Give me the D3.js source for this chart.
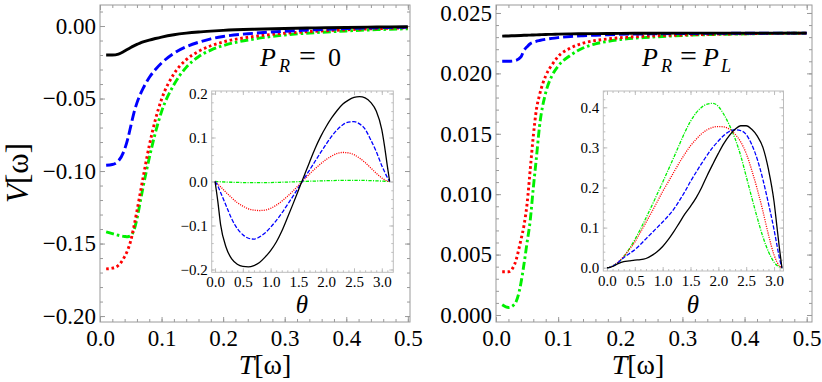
<!DOCTYPE html>
<html>
<head>
<meta charset="utf-8">
<script src="https://cdn.jsdelivr.net/npm/d3@7"></script>
<style>
  body { margin: 0; background: #fff; }
  text { font-family: "Liberation Serif", "Times New Roman", serif; }
</style>
</head>
<body>
<svg id="chart" width="822" height="382"></svg>
<script>
// temperature grid of the two main panels
const T = [0.01, 0.02, 0.03, 0.04, 0.045, 0.05, 0.055, 0.06, 0.065, 0.07, 0.08, 0.09, 0.10,
  0.12, 0.14, 0.16, 0.18, 0.20, 0.25, 0.30, 0.35, 0.40, 0.45, 0.50];

// left panel, P_R = 0
const leftBlack = [-0.0200, -0.0200, -0.0193, -0.0172, -0.0160, -0.0148, -0.0137, -0.0127, -0.0118, -0.0110, -0.0097, -0.0086, -0.0076,
  -0.0060, -0.0049, -0.0041, -0.0035, -0.0030, -0.0022, -0.0017, -0.0013, -0.0010, -0.0007, -0.0005];
const leftBlue = [-0.0960, -0.0955, -0.0930, -0.0850, -0.0780, -0.0690, -0.0600, -0.0530, -0.0475, -0.0430, -0.0355, -0.0300, -0.0255,
  -0.0188, -0.0143, -0.0112, -0.0088, -0.0072, -0.0050, -0.0036, -0.0026, -0.0018, -0.0012, -0.0008];
const leftRed = [-0.1675, -0.1670, -0.1650, -0.1590, -0.1545, -0.1480, -0.1385, -0.1275, -0.1160, -0.1045, -0.0825, -0.0645, -0.0505,
  -0.0330, -0.0232, -0.0175, -0.0136, -0.0110, -0.0072, -0.0050, -0.0036, -0.0026, -0.0018, -0.0012];
const leftGreen = [-0.1420, -0.1432, -0.1443, -0.1451, -0.1453, -0.1445, -0.1410, -0.1330, -0.1220, -0.1110, -0.0910, -0.0735, -0.0590,
  -0.0405, -0.0285, -0.0212, -0.0166, -0.0135, -0.0090, -0.0062, -0.0046, -0.0034, -0.0025, -0.0019];

// right panel, P_R = P_L
const rightBlack = [0.02308, 0.02310, 0.02312, 0.02314, 0.02315, 0.02316, 0.02317, 0.02318, 0.02319, 0.02320, 0.02322, 0.02323, 0.02325,
  0.02327, 0.02328, 0.02329, 0.02330, 0.02331, 0.02332, 0.02333, 0.02333, 0.02333, 0.02333, 0.02333];
const rightBlue = [0.02100, 0.02100, 0.02105, 0.02135, 0.02190, 0.02220, 0.02245, 0.02258, 0.02266, 0.02272, 0.02282, 0.02290, 0.02296,
  0.02305, 0.02311, 0.02316, 0.02320, 0.02323, 0.02327, 0.02330, 0.02331, 0.02332, 0.02333, 0.02333];
const rightRed = [0.00358, 0.00358, 0.00420, 0.00620, 0.00740, 0.00920, 0.01200, 0.01480, 0.01700, 0.01820, 0.01980, 0.02070, 0.02140,
  0.02210, 0.02250, 0.02272, 0.02285, 0.02295, 0.02310, 0.02318, 0.02324, 0.02328, 0.02331, 0.02333];
const rightGreen = [0.00085, 0.00062, 0.00090, 0.00260, 0.00420, 0.00600, 0.00780, 0.01050, 0.01300, 0.01560, 0.01840, 0.01980, 0.02060,
  0.02150, 0.02210, 0.02245, 0.02265, 0.02280, 0.02300, 0.02314, 0.02322, 0.02327, 0.02331, 0.02333];

// theta grid of the insets
const theta = [0, 0.05, 0.1, 0.2, 0.3, 0.4, 0.5, 0.6, 0.7, 0.8, 0.9, 1.0, 1.1, 1.2, 1.3, 1.4, 1.5, 1.6, 1.7, 1.8, 1.9,
  2.0, 2.1, 2.2, 2.3, 2.4, 2.5, 2.6, 2.7, 2.8, 2.9, 3.0, 3.05, 3.1, 3.1416];

const insetLeftBlack = [0, -0.045, -0.098, -0.150, -0.176, -0.188, -0.193, -0.194, -0.191, -0.184, -0.172, -0.157, -0.138, -0.113, -0.083,
  -0.052, -0.020, 0.012, 0.044, 0.075, 0.102, 0.125, 0.145, 0.162, 0.176, 0.185, 0.191, 0.193, 0.190, 0.180, 0.160, 0.118, 0.080, 0.035, 0];
const insetLeftBlue = [0, -0.010, -0.025, -0.055, -0.085, -0.107, -0.121, -0.129, -0.131, -0.126, -0.117, -0.104, -0.089, -0.072, -0.053,
  -0.034, -0.014, 0.006, 0.026, 0.046, 0.066, 0.085, 0.103, 0.118, 0.129, 0.135, 0.136, 0.131, 0.119, 0.095, 0.068, 0.036, 0.022, 0.009, 0];
const insetLeftRed = [0, -0.006, -0.012, -0.025, -0.037, -0.048, -0.056, -0.062, -0.065, -0.066, -0.065, -0.061, -0.054, -0.045, -0.034,
  -0.022, -0.009, 0.004, 0.017, 0.029, 0.040, 0.050, 0.058, 0.064, 0.066, 0.065, 0.061, 0.053, 0.043, 0.031, 0.019, 0.008, 0.004, 0.001, 0];
const insetLeftGreen = [0, -0.0003, -0.0006, -0.0012, -0.0017, -0.0021, -0.0024, -0.0026, -0.0027, -0.0027, -0.0026, -0.0024, -0.0021,
  -0.0017, -0.0013, -0.0009, -0.0004, 0.0001, 0.0006, 0.0010, 0.0014, 0.0018, 0.0021, 0.0024, 0.0026, 0.0027, 0.0027, 0.0026, 0.0024,
  0.0020, 0.0015, 0.0009, 0.0006, 0.0003, 0];

const insetRightBlack = [0, 0.001, 0.003, 0.010, 0.015, 0.017, 0.019, 0.020, 0.023, 0.030, 0.040, 0.053, 0.070, 0.090, 0.112, 0.134,
  0.153, 0.174, 0.200, 0.230, 0.258, 0.285, 0.310, 0.330, 0.345, 0.354, 0.354, 0.345, 0.328, 0.300, 0.245, 0.165, 0.105, 0.045, 0];
const insetRightBlue = [0, 0.001, 0.004, 0.013, 0.025, 0.035, 0.045, 0.058, 0.072, 0.086, 0.100, 0.114, 0.129, 0.146, 0.167, 0.190,
  0.215, 0.238, 0.260, 0.281, 0.300, 0.316, 0.330, 0.340, 0.344, 0.342, 0.332, 0.307, 0.270, 0.220, 0.160, 0.095, 0.058, 0.022, 0];
const insetRightRed = [0, 0.001, 0.004, 0.014, 0.028, 0.045, 0.064, 0.088, 0.113, 0.138, 0.164, 0.190, 0.214, 0.238, 0.262, 0.284,
  0.304, 0.320, 0.334, 0.344, 0.350, 0.352, 0.351, 0.345, 0.333, 0.314, 0.285, 0.243, 0.195, 0.141, 0.082, 0.032, 0.015, 0.004, 0];
const insetRightGreen = [0, 0.001, 0.004, 0.013, 0.027, 0.047, 0.070, 0.096, 0.124, 0.153, 0.183, 0.213, 0.244, 0.275, 0.307, 0.338,
  0.365, 0.386, 0.400, 0.408, 0.410, 0.402, 0.382, 0.355, 0.322, 0.280, 0.228, 0.175, 0.124, 0.077, 0.040, 0.014, 0.006, 0.002, 0];

// tick values
const mainXTicks = [0, 0.1, 0.2, 0.3, 0.4, 0.5];
const leftYTicks = [-0.20, -0.15, -0.10, -0.05, 0.00];
const rightYTicks = [0.000, 0.005, 0.010, 0.015, 0.020, 0.025];
const insetXTicks = [0, 0.5, 1.0, 1.5, 2.0, 2.5, 3.0];
const insetLeftYTicks = [-0.2, -0.1, 0.0, 0.1, 0.2];
const insetRightYTicks = [0.0, 0.1, 0.2, 0.3, 0.4];

const svg = d3.select('#chart');
svg.append('rect').attr('width', 822).attr('height', 382).attr('fill', '#fff');

const styles = {
  black: { color: '#000', dash: null },
  blue: { color: '#0000ff', dash: [10, 4] },
  red: { color: '#ff0000', dash: [2.6, 2.8] },
  green: { color: '#00f000', dash: [8, 3, 2.6, 3] }
};

function frame(g, x, y, o) {
  const [x0, x1] = x.range();
  const [y0, y1] = y.range();
  g.append('rect')
    .attr('x', x0).attr('y', y1)
    .attr('width', x1 - x0).attr('height', y0 - y1)
    .attr('fill', o.fill).attr('stroke', o.color).attr('stroke-width', 1);

  const xd = x.domain(), yd = y.domain();
  const inX = v => v >= Math.min(...xd) && v <= Math.max(...xd);
  const inY = v => v >= Math.min(...yd) && v <= Math.max(...yd);
  const xMinor = o.xMinor.filter(inX), yMinor = o.yMinor.filter(inY);

  const sides = [
    [() => d3.axisBottom(x), `translate(0,${y0})`, o.xMajor, xMinor, o.xFmt, o.xPad],
    [() => d3.axisTop(x), `translate(0,${y1})`, o.xMajor, xMinor, null, 0],
    [() => d3.axisLeft(y), `translate(${x0},0)`, o.yMajor, yMinor, o.yFmt, o.yPad],
    [() => d3.axisRight(y), `translate(${x1},0)`, o.yMajor, yMinor, null, 0]
  ];
  sides.forEach(([mk, tr, major, minor, fmt, pad]) => {
    const gMinor = g.append('g').attr('transform', tr)
      .call(mk().tickValues(minor).tickSize(-o.minorLen).tickFormat(''));
    const gMajor = g.append('g').attr('transform', tr)
      .call(mk().tickValues(major).tickSize(-o.majorLen).tickPadding(pad)
        .tickFormat(fmt ? d3.format(fmt) : ''));
    [gMinor, gMajor].forEach(a => {
      a.attr('font-family', null).attr('font-size', null);
      a.select('.domain').remove();
      a.selectAll('line').attr('stroke', o.color);
      a.selectAll('text')
        .attr('fill', '#000')
        .style('font-size', o.fontSize + 'px');
    });
  });
}

function drawLines(g, x, y, xs, series, width, dashScale, clipId) {
  const line = d3.line()
    .x((d, i) => x(xs[i]))
    .y(d => y(d))
    .curve(d3.curveMonotoneX);
  series.forEach(([vals, st]) => {
    g.append('path')
      .attr('clip-path', `url(#${clipId})`)
      .attr('d', line(vals))
      .attr('fill', 'none')
      .attr('stroke', styles[st].color)
      .attr('stroke-width', width)
      .attr('stroke-dasharray', styles[st].dash ? styles[st].dash.map(v => v * dashScale).join(',') : null);
  });
}

function clip(id, x, y) {
  const [x0, x1] = x.range();
  const [y0, y1] = y.range();
  svg.append('clipPath').attr('id', id).append('rect')
    .attr('x', x0).attr('y', y1).attr('width', x1 - x0).attr('height', y0 - y1);
}

// ---- left main panel
const xL = d3.scaleLinear().domain([0, 0.5035]).range([100, 410]);
const yL = d3.scaleLinear().domain([-0.2041, 0.0145]).range([322, 5]);
const gL = svg.append('g');
frame(gL, xL, yL, {
  fill: 'none', color: '#9a9a9a', majorLen: 5, minorLen: 3, fontSize: 23,
  xMajor: mainXTicks, xMinor: d3.range(0, 51, 2).map(i => i / 100), xFmt: '.1f', xPad: 8,
  yMajor: leftYTicks, yMinor: d3.range(-21, 2).map(i => i / 100), yFmt: '.2f', yPad: 4
});
clip('clipL', xL, yL);
drawLines(gL, xL, yL, T, [[leftGreen, 'green'], [leftRed, 'red'], [leftBlue, 'blue'], [leftBlack, 'black']], 2.9, 1, 'clipL');

// ---- right main panel
const xR = d3.scaleLinear().domain([0, 0.5085]).range([496, 812]);
const yR = d3.scaleLinear().domain([-0.00058, 0.02566]).range([322, 5]);
const gR = svg.append('g');
frame(gR, xR, yR, {
  fill: 'none', color: '#9a9a9a', majorLen: 5, minorLen: 3, fontSize: 23,
  xMajor: mainXTicks, xMinor: d3.range(0, 51, 2).map(i => i / 100), xFmt: '.1f', xPad: 8,
  yMajor: rightYTicks, yMinor: d3.range(0, 26).map(i => i / 1000), yFmt: '.3f', yPad: 4
});
clip('clipR', xR, yR);
drawLines(gR, xR, yR, T, [[rightGreen, 'green'], [rightRed, 'red'], [rightBlue, 'blue'], [rightBlack, 'black']], 2.9, 1, 'clipR');

// ---- insets
const xIL = d3.scaleLinear().domain([-0.06, 3.207]).range([211.7, 393.3]);
const yIL = d3.scaleLinear().domain([-0.2064, 0.2057]).range([272.3, 91]);
const gIL = svg.append('g');
frame(gIL, xIL, yIL, {
  fill: '#fff', color: '#bdbdbd', majorLen: 4, minorLen: 2, fontSize: 15,
  xMajor: insetXTicks, xMinor: d3.range(0, 32).map(i => i / 10), xFmt: '.1f', xPad: 4,
  yMajor: insetLeftYTicks, yMinor: d3.range(-10, 11).map(i => i / 50), yFmt: '.1f', yPad: 4
});
clip('clipIL', xIL, yIL);
drawLines(gIL, xIL, yIL, theta, [[insetLeftGreen, 'green'], [insetLeftRed, 'red'], [insetLeftBlue, 'blue'], [insetLeftBlack, 'black']], 1.3, 0.42, 'clipIL');

const xIR = d3.scaleLinear().domain([-0.066, 3.17]).range([603.3, 783.5]);
const yIR = d3.scaleLinear().domain([-0.0082, 0.4406]).range([271, 91]);
const gIR = svg.append('g');
frame(gIR, xIR, yIR, {
  fill: '#fff', color: '#bdbdbd', majorLen: 4, minorLen: 2, fontSize: 15,
  xMajor: insetXTicks, xMinor: d3.range(0, 32).map(i => i / 10), xFmt: '.1f', xPad: 4,
  yMajor: insetRightYTicks, yMinor: d3.range(0, 23).map(i => i / 50), yFmt: '.1f', yPad: 4
});
clip('clipIR', xIR, yIR);
drawLines(gIR, xIR, yIR, theta, [[insetRightGreen, 'green'], [insetRightRed, 'red'], [insetRightBlue, 'blue'], [insetRightBlack, 'black']], 1.3, 0.42, 'clipIR');

// ---- texts
function axisLabel(x, y, letter, size, rotate) {
  const t = svg.append('text')
    .attr('text-anchor', 'middle')
    .attr('font-size', size)
    .attr('transform', `translate(${x},${y})` + (rotate ? ' rotate(-90)' : ''));
  t.append('tspan').attr('font-style', 'italic').text(letter);
  t.append('tspan').text('[ω]');
}
axisLabel(28, 173, 'V', 31, true);
axisLabel(265, 374, 'T', 28, false);
axisLabel(638, 374, 'T', 28, false);

function thetaLabel(x) {
  svg.append('text').attr('x', x).attr('y', 313).attr('text-anchor', 'middle')
    .attr('font-size', 25).attr('font-style', 'italic').text('θ');
}
thetaLabel(302);
thetaLabel(693);

function pLabel(parts) {
  const t = svg.append('text').attr('font-size', 26);
  parts.forEach(([txt, x, y, size, italic]) => {
    t.append('tspan').attr('x', x).attr('y', y).attr('font-size', size)
      .attr('font-style', italic ? 'italic' : 'normal').text(txt);
  });
}
pLabel([['P', 260, 66, 26, true], ['R', 279, 72, 18, true], ['=', 299, 66, 30, false], ['0', 328, 66, 26, false]]);
pLabel([['P', 642, 66, 26, true], ['R', 661, 72, 18, true], ['=', 680, 66, 30, false], ['P', 703, 66, 26, true], ['L', 721, 72, 18, true]]);
</script>
</body>
</html>
